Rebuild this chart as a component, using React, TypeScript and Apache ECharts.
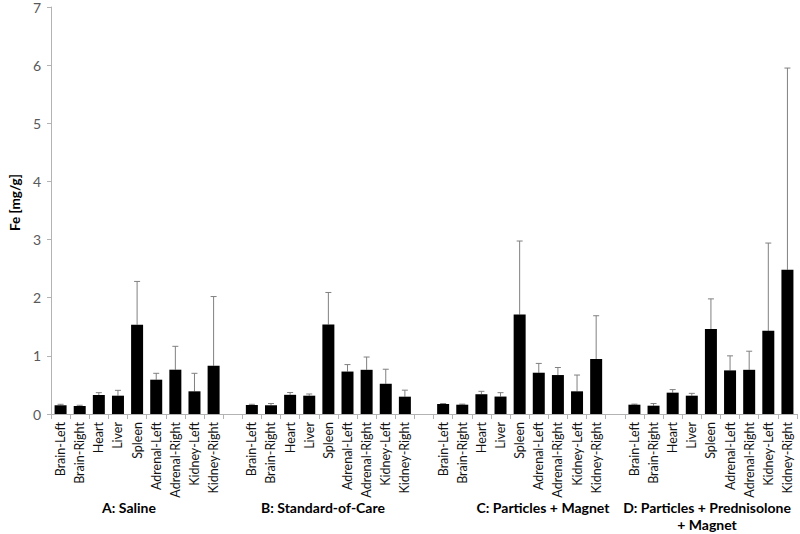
import React, { useEffect, useRef } from "react";
import * as echarts from "echarts";

const organs = ["Brain-Left", "Brain-Right", "Heart", "Liver", "Spleen", "Adrenal-Left", "Adrenal-Right", "Kidney-Left", "Kidney-Right"];
const groupNames = ["A: Saline", "B: Standard-of-Care", "C: Particles + Magnet", "D: Particles + Prednisolone\n+ Magnet"];

const meanA = [0.15, 0.138, 0.327, 0.315, 1.536, 0.59, 0.762, 0.39, 0.83];
const sdA = [0.017, 0.012, 0.04, 0.092, 0.744, 0.11, 0.402, 0.31, 1.19];
const meanB = [0.155, 0.15, 0.33, 0.315, 1.54, 0.73, 0.76, 0.52, 0.298];
const sdB = [0.012, 0.03, 0.04, 0.029, 0.55, 0.12, 0.22, 0.25, 0.112];
const meanC = [0.172, 0.16, 0.34, 0.3, 1.71, 0.71, 0.67, 0.39, 0.946];
const sdC = [0.008, 0.01, 0.05, 0.067, 1.265, 0.16, 0.13, 0.28, 0.744];
const meanD = [0.16, 0.143, 0.367, 0.315, 1.46, 0.75, 0.76, 1.43, 2.48];
const sdD = [0.01, 0.037, 0.053, 0.04, 0.52, 0.25, 0.32, 1.51, 3.47];

const yTicks = [0, 1, 2, 3, 4, 5, 6, 7];

// group label anchor positions (layout only)
const groupLabelX = [129, 323, 543, 707];

export default function App() {
  const ref = useRef<HTMLDivElement>(null);
  useEffect(() => {
    document.body.style.margin = "0";
    if (!ref.current) return;
    const chart = echarts.init(ref.current, null, { renderer: "svg" });
    const means = [meanA, meanB, meanC, meanD];
    const sds = [sdA, sdB, sdC, sdD];
    const cats: string[] = [];
    const barData: any[] = [];
    const errData: any[] = [];
    means.forEach((m, g) => {
      if (g > 0) {
        cats.push("");
        barData.push("-");
      }
      m.forEach((v, i) => {
        const idx = cats.length;
        cats.push(organs[i]);
        barData.push(v);
        errData.push([idx, v, v + sds[g][i]]);
      });
    });
    const font = "Lato, 'Liberation Sans', sans-serif";
    const axisGray = "#b3b3b3";
    chart.setOption({
      animation: false,
      backgroundColor: "#fff",
      grid: { left: 38, right: 3, top: 7, bottom: 120, containLabel: false },
      xAxis: {
        type: "category",
        data: cats,
        boundaryGap: true,
        axisLine: { lineStyle: { color: axisGray, width: 1 } },
        axisTick: { show: true, interval: 0, length: 5, lineStyle: { color: axisGray } },
        axisLabel: {
          interval: 0,
          rotate: 90,
          margin: 8,
          fontSize: 12.5,
          color: "#111",
          fontFamily: font,
        },
        splitLine: { show: false },
      },
      yAxis: {
        type: "value",
        min: 0,
        max: 7,
        interval: 1,
        name: "Fe [mg/g]",
        nameLocation: "middle",
        nameGap: 21,
        nameTextStyle: { fontSize: 13.5, fontWeight: "bold", color: "#000", fontFamily: font, padding: [0, 0, 0, 16] },
        axisLine: { show: true, lineStyle: { color: axisGray } },
        axisTick: { show: true, length: 4, lineStyle: { color: axisGray } },
        axisLabel: {
          margin: 10,
          fontSize: 14,
          color: "#595959",
          fontFamily: font,
          formatter: (v: number) => (yTicks.includes(v) ? String(v) : ""),
        },
        splitLine: { show: false },
      },
      series: [
        {
          type: "bar",
          data: barData,
          barWidth: 12,
          itemStyle: { color: "#000" },
        },
        {
          type: "custom",
          data: errData,
          z: 1,
          renderItem: (params: any, api: any) => {
            const x = api.value(0);
            const top = api.coord([x, api.value(2)]);
            const base = api.coord([x, api.value(1)]);
            const half = 3;
            return {
              type: "group",
              children: [
                {
                  type: "line",
                  shape: { x1: top[0], y1: base[1], x2: top[0], y2: top[1] },
                  style: { stroke: "#808080", lineWidth: 1 },
                },
                {
                  type: "line",
                  shape: { x1: top[0] - half, y1: top[1], x2: top[0] + half, y2: top[1] },
                  style: { stroke: "#808080", lineWidth: 1 },
                },
              ],
            };
          },
        },
      ],
      graphic: groupNames.map((name, i) => ({
        type: "text",
        x: groupLabelX[i],
        y: 499,
        style: {
          text: name,
          fontSize: 14,
          fontWeight: "bold",
          fill: "#000",
          fontFamily: font,
          textAlign: "center",
          textVerticalAlign: "top",
          lineHeight: 17,
        },
      })),
    });
    return () => chart.dispose();
  }, []);
  return <div ref={ref} style={{ width: 800, height: 534 }} />;
}
